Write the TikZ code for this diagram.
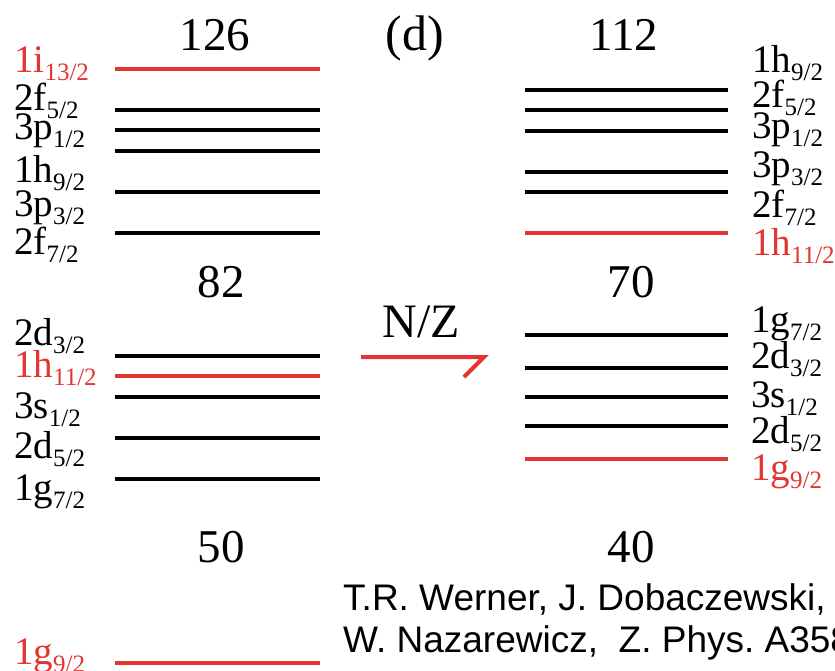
\documentclass[tikz,border=0pt]{standalone}
\usepackage{fontspec}
\setmainfont{Liberation Serif}
\newfontfamily\refsans{Liberation Sans}
\definecolor{lvred}{RGB}{226,52,48}
\newcommand{\lvl}[2]{#1\raisebox{-8pt}{\fontsize{25}{25}\selectfont #2}}
\frenchspacing
\tikzset{
  level/.style={line width=4pt, black},
  redlevel/.style={line width=4pt, lvred},
  lab/.style={anchor=base west, inner sep=0pt, font=\fontsize{39}{39}\selectfont},
  redlab/.style={lab, text=lvred},
  magic/.style={anchor=base, inner sep=0pt, font=\fontsize{47}{47}\selectfont},
  refline/.style={anchor=base west, inner sep=0pt, font=\refsans\fontsize{37}{37}\selectfont},
}
\begin{document}
\begin{tikzpicture}[x=1pt,y=-1pt]
\useasboundingbox (0,0) rectangle (835,670);
% left column levels
\draw[redlevel] (115,69) -- (320,69);
\draw[level] (115,110) -- (320,110);
\draw[level] (115,130) -- (320,130);
\draw[level] (115,151) -- (320,151);
\draw[level] (115,192) -- (320,192);
\draw[level] (115,233) -- (320,233);
\draw[level] (115,356) -- (320,356);
\draw[redlevel] (115,376) -- (320,376);
\draw[level] (115,397) -- (320,397);
\draw[level] (115,438) -- (320,438);
\draw[level] (115,479) -- (320,479);
\draw[redlevel] (115,663) -- (320,663);
% right column levels
\draw[level] (525,90) -- (728,90);
\draw[level] (525,110) -- (728,110);
\draw[level] (525,131) -- (728,131);
\draw[level] (525,172) -- (728,172);
\draw[level] (525,192) -- (728,192);
\draw[redlevel] (525,233) -- (728,233);
\draw[level] (525,335) -- (728,335);
\draw[level] (525,368) -- (728,368);
\draw[level] (525,397) -- (728,397);
\draw[level] (525,426) -- (728,426);
\draw[redlevel] (525,459) -- (728,459);
% left labels
\node[redlab] (L1) at (14,72) {\lvl{1i}{13/2}};
\node[lab] (L2) at (14,110) {\lvl{2f}{5/2}};
\node[lab] (L3) at (14,139) {\lvl{3p}{1/2}};
\node[lab] (L4) at (14,182) {\lvl{1h}{9/2}};
\node[lab] (L5) at (14,216) {\lvl{3p}{3/2}};
\node[lab] (L6) at (14,254) {\lvl{2f}{7/2}};
\node[lab] (L7) at (14,345) {\lvl{2d}{3/2}};
\node[redlab] (L8) at (14,377) {\lvl{1h}{11/2}};
\node[lab] (L9) at (14,418) {\lvl{3s}{1/2}};
\node[lab] (L10) at (14,458) {\lvl{2d}{5/2}};
\node[lab] (L11) at (14,500) {\lvl{1g}{7/2}};
\node[redlab] (L12) at (14,664) {\lvl{1g}{9/2}};
% right labels
\node[lab] (R1) at (752,72) {\lvl{1h}{9/2}};
\node[lab] (R2) at (752,107) {\lvl{2f}{5/2}};
\node[lab] (R3) at (752,138) {\lvl{3p}{1/2}};
\node[lab] (R4) at (752,177) {\lvl{3p}{3/2}};
\node[lab] (R5) at (752,217) {\lvl{2f}{7/2}};
\node[redlab] (R6) at (752,255) {\lvl{1h}{11/2}};
\node[lab] (R7) at (751,332) {\lvl{1g}{7/2}};
\node[lab] (R8) at (751,368) {\lvl{2d}{3/2}};
\node[lab] (R9) at (751,407) {\lvl{3s}{1/2}};
\node[lab] (R10) at (751,443) {\lvl{2d}{5/2}};
\node[redlab] (R11) at (751,480) {\lvl{1g}{9/2}};
% magic numbers
\node[magic] (m126) at (215,50) {126};
\node[magic] (m112) at (624,50) {112};
\node[magic, font=\fontsize{50}{50}\selectfont] (pd) at (415,50) {(d)};
\node[magic] (m82) at (221,297) {82};
\node[magic] (m70) at (631,297) {70};
\node[magic] (m50) at (221,562) {50};
\node[magic] (m40) at (631,562) {40};
\node[magic, font=\fontsize{48}{48}\selectfont] (nz) at (421,337) {N/Z};
% arrow
\coordinate (a0) at (361,357);
\coordinate (a1) at (484,357);
\coordinate (a2) at (464,377);
\draw[redlevel, line join=miter] (a0) -- (a1) -- (a2);
% reference
\node[refline] (ref1) at (343,610) {T.R. Werner, J. Dobaczewski,};
\node[refline] (ref2) at (343,652) {W. Nazarewicz,\ \ Z. Phys. A358};
\end{tikzpicture}
\end{document}
